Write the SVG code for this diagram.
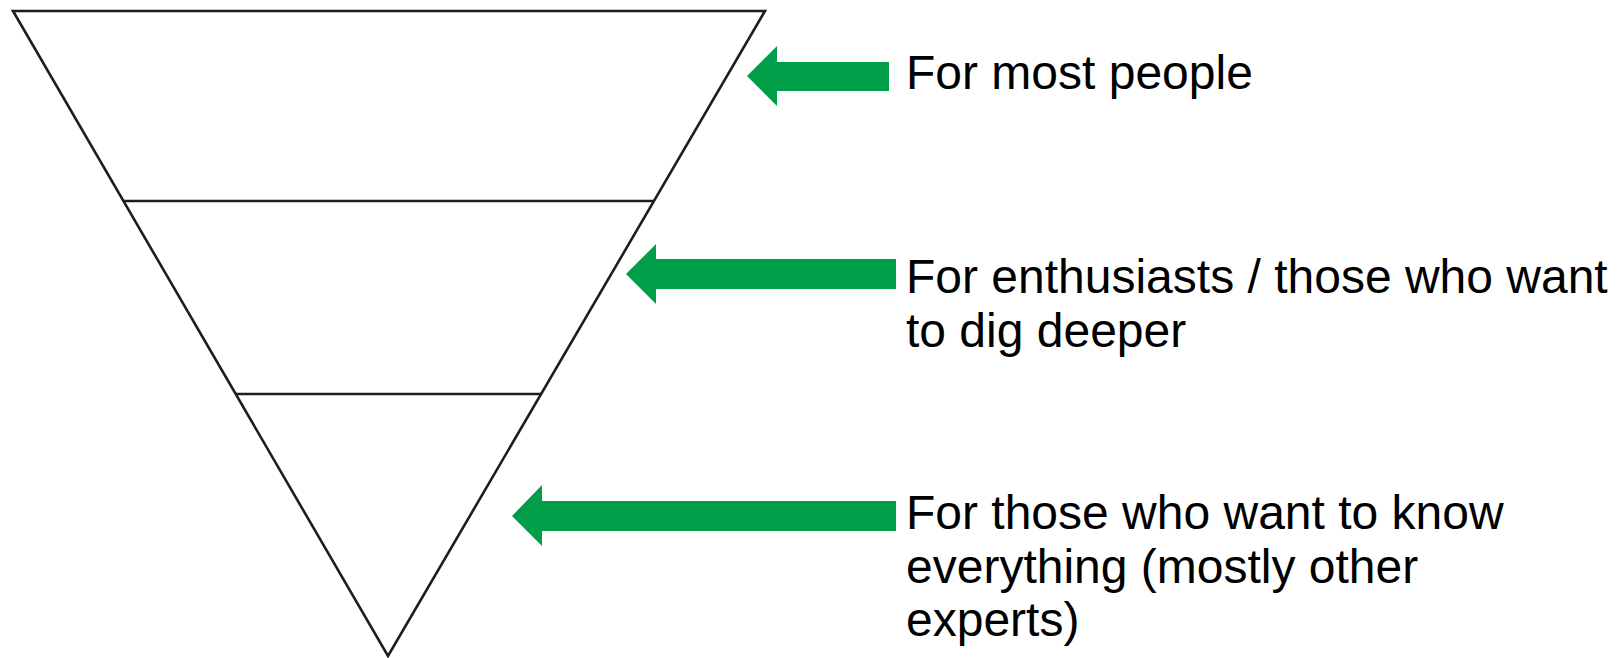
<svg xmlns="http://www.w3.org/2000/svg" width="1618" height="658" viewBox="0 0 1618 658">
<style>
.edge{fill:none;stroke:#1e1e1e;stroke-width:2.6;stroke-linejoin:miter}
.arrow{fill:#009E49}
.lbl{font-family:"Liberation Sans",Arial,sans-serif;font-size:48px;fill:#000}
</style>
<rect width="1618" height="658" fill="#fff"/>
<g id="funnel">
<polygon class="edge" points="13,11 765,11 388,656"/>
<line class="edge" x1="123" y1="201" x2="654" y2="201"/>
<line class="edge" x1="235" y1="394" x2="541" y2="394"/>
</g>
<g id="connectors">
<polygon class="arrow" points="747,76 777,46 777,62 889,62 889,91 777,91 777,106"/>
<polygon class="arrow" points="626,274 656,244 656,259 896,259 896,289 656,289 656,304"/>
<polygon class="arrow" points="512,516 542,485 542,501 896,501 896,531 542,531 542,546"/>
</g>
<g id="label1"><text class="lbl" x="906" y="89">For most people</text></g>
<g id="label2"><text class="lbl" x="906" y="293">For enthusiasts / those who want</text><text class="lbl" x="906" y="347">to dig deeper</text></g>
<g id="label3"><text class="lbl" x="906" y="529">For those who want to know</text><text class="lbl" x="906" y="583">everything (mostly other</text><text class="lbl" x="906" y="636">experts)</text></g>
</svg>
